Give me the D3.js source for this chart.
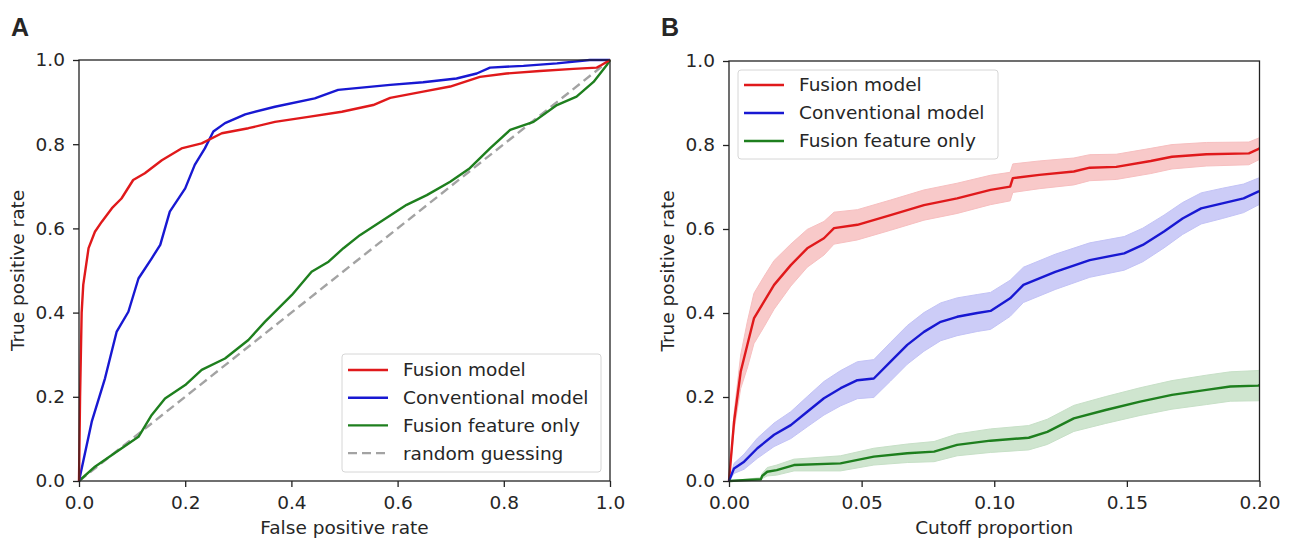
<!DOCTYPE html>
<html>
<head>
<meta charset="utf-8">
<script src="https://cdn.jsdelivr.net/npm/d3@7"></script>
<style>
  body { margin: 0; background: #fff; }
  svg { display: block; }
  text { font-family: "DejaVu Sans", sans-serif; fill: #262626; }
</style>
</head>
<body>
<svg id="chart" width="1293" height="539"></svg>
<script>
// ---- panel A: ROC curves ----
var rocFusionFpr = [0, 0.002, 0.005, 0.008, 0.018, 0.030, 0.043, 0.062, 0.080, 0.102, 0.124, 0.156, 0.193, 0.231, 0.269, 0.319, 0.369, 0.432, 0.495, 0.554, 0.586, 0.648, 0.699, 0.755, 0.805, 0.868, 0.931, 0.975, 0.984, 1]
var rocFusionTpr = [0, 0.20, 0.40, 0.466, 0.553, 0.592, 0.616, 0.648, 0.671, 0.715, 0.731, 0.762, 0.790, 0.802, 0.826, 0.838, 0.853, 0.865, 0.877, 0.893, 0.910, 0.925, 0.937, 0.960, 0.968, 0.974, 0.979, 0.982, 0.988, 1]

var rocConvFpr = [0, 0.024, 0.049, 0.071, 0.093, 0.112, 0.137, 0.153, 0.171, 0.200, 0.218, 0.237, 0.253, 0.275, 0.313, 0.369, 0.444, 0.488, 0.586, 0.648, 0.711, 0.749, 0.774, 0.837, 0.900, 0.962, 1]
var rocConvTpr = [0, 0.141, 0.244, 0.355, 0.402, 0.481, 0.529, 0.561, 0.640, 0.695, 0.751, 0.790, 0.830, 0.850, 0.871, 0.889, 0.909, 0.929, 0.941, 0.947, 0.956, 0.968, 0.982, 0.986, 0.992, 1.0, 1]

var rocFeatFpr = [0, 0.030, 0.062, 0.112, 0.137, 0.162, 0.200, 0.231, 0.275, 0.319, 0.350, 0.401, 0.438, 0.470, 0.498, 0.529, 0.573, 0.617, 0.655, 0.699, 0.736, 0.774, 0.812, 0.856, 0.900, 0.937, 0.969, 0.994, 1]
var rocFeatTpr = [0, 0.034, 0.062, 0.105, 0.157, 0.196, 0.228, 0.264, 0.291, 0.335, 0.378, 0.442, 0.497, 0.521, 0.553, 0.584, 0.620, 0.656, 0.679, 0.711, 0.743, 0.790, 0.834, 0.853, 0.893, 0.913, 0.948, 0.988, 1]

var randomFpr = [0, 1]
var randomTpr = [0, 1]

// ---- panel B: TPR vs cutoff, mean with band half width ----
var cutFusion = [0, 0.0019, 0.0044, 0.0069, 0.0094, 0.0132, 0.0170, 0.0233, 0.0295, 0.0358, 0.0396, 0.0484, 0.0609, 0.0735, 0.0860, 0.0986, 0.106, 0.107, 0.117, 0.130, 0.136, 0.146, 0.159, 0.167, 0.180, 0.196, 0.1995, 0.2]
var tprFusion = [0, 0.141, 0.260, 0.324, 0.387, 0.427, 0.467, 0.514, 0.554, 0.578, 0.602, 0.610, 0.633, 0.657, 0.673, 0.693, 0.701, 0.721, 0.729, 0.737, 0.746, 0.748, 0.762, 0.772, 0.778, 0.780, 0.790, 0.792]
var bandFusion = [0, 0.02, 0.04, 0.055, 0.06, 0.06, 0.058, 0.05, 0.045, 0.04, 0.038, 0.036, 0.036, 0.036, 0.036, 0.035, 0.034, 0.034, 0.033, 0.032, 0.031, 0.03, 0.03, 0.029, 0.028, 0.027, 0.026, 0.026]

var cutConv = [0, 0.0019, 0.0057, 0.0107, 0.0170, 0.0233, 0.0295, 0.0358, 0.0421, 0.0484, 0.0546, 0.0609, 0.0672, 0.0735, 0.0798, 0.0860, 0.0936, 0.0986, 0.106, 0.111, 0.123, 0.136, 0.149, 0.156, 0.164, 0.171, 0.178, 0.186, 0.194, 0.1995, 0.2]
var tprConv = [0, 0.030, 0.046, 0.078, 0.110, 0.133, 0.165, 0.197, 0.221, 0.240, 0.244, 0.284, 0.324, 0.355, 0.379, 0.391, 0.400, 0.405, 0.435, 0.467, 0.498, 0.526, 0.542, 0.562, 0.594, 0.625, 0.649, 0.661, 0.673, 0.689, 0.69]
var bandConv = [0, 0.012, 0.018, 0.024, 0.028, 0.032, 0.036, 0.04, 0.042, 0.044, 0.045, 0.046, 0.046, 0.046, 0.045, 0.045, 0.044, 0.044, 0.043, 0.042, 0.042, 0.041, 0.04, 0.04, 0.039, 0.038, 0.037, 0.036, 0.034, 0.032, 0.032]

var cutFeat = [0, 0.012, 0.0125, 0.0144, 0.018, 0.0245, 0.042, 0.0546, 0.0672, 0.0773, 0.086, 0.0986, 0.113, 0.120, 0.130, 0.142, 0.155, 0.167, 0.180, 0.189, 0.1995, 0.2]
var tprFeat = [0, 0.004, 0.012, 0.022, 0.026, 0.038, 0.042, 0.058, 0.066, 0.070, 0.086, 0.096, 0.103, 0.117, 0.149, 0.169, 0.189, 0.205, 0.217, 0.225, 0.227, 0.228]
var bandFeat = [0, 0.004, 0.006, 0.01, 0.012, 0.014, 0.018, 0.02, 0.022, 0.024, 0.026, 0.028, 0.029, 0.03, 0.031, 0.032, 0.033, 0.034, 0.035, 0.035, 0.036, 0.036]

var yTicks = [0, 0.2, 0.4, 0.6, 0.8, 1.0]
var xTicksA = [0, 0.2, 0.4, 0.6, 0.8, 1.0]
var xTicksB = [0, 0.05, 0.10, 0.15, 0.20]

var legendA = ["Fusion model", "Conventional model", "Fusion feature only", "random guessing"]
var legendB = ["Fusion model", "Conventional model", "Fusion feature only"]

var red = "#e0191b", blue = "#1818d2", green = "#1e7f1e", gray = "#a3a3a3"
var fontSize = 18.5

var svg = d3.select("#chart")

function drawAxes(g, x, y, xTicks, xFmt, xLabel, yLabelX) {
    var x0 = x.range()[0], x1 = x.range()[1]
    var y0 = y.range()[0], y1 = y.range()[1]

    var xa = g.append("g")
        .attr("transform", "translate(0," + y0 + ")")
        .call(d3.axisBottom(x).tickValues(xTicks).tickFormat(d3.format(xFmt)).tickSize(6).tickPadding(9))
    var ya = g.append("g")
        .attr("transform", "translate(" + x0 + ",0)")
        .call(d3.axisLeft(y).tickValues(yTicks).tickFormat(d3.format(".1f")).tickSize(6).tickPadding(8))
    ;[xa, ya].forEach(a => {
        a.select(".domain").remove()
        a.selectAll("line").attr("stroke", "#222").attr("stroke-width", 1.3)
        a.selectAll("text").style("font-size", fontSize + "px").attr("fill", "#262626")
    })

    // frame
    g.append("rect")
        .attr("x", x0).attr("y", y1)
        .attr("width", x1 - x0).attr("height", y0 - y1)
        .attr("fill", "none").attr("stroke", "#222").attr("stroke-width", 1.3)

    g.append("text")
        .attr("x", (x0 + x1) / 2).attr("y", 534)
        .attr("text-anchor", "middle")
        .style("font-size", fontSize + "px")
        .text(xLabel)

    g.append("text")
        .attr("transform", "translate(" + yLabelX + "," + (y0 + y1) / 2 + ") rotate(-90)")
        .attr("text-anchor", "middle")
        .style("font-size", fontSize + "px")
        .text("True positive rate")
}

function drawLegend(g, box, names, colors, dashed) {
    g.append("rect")
        .attr("x", box.x).attr("y", box.y)
        .attr("width", box.w).attr("height", box.h)
        .attr("rx", 3)
        .attr("fill", "white").attr("fill-opacity", 0.85)
        .attr("stroke", "#d6d6d6").attr("stroke-width", 1)
    names.forEach((name, i) => {
        var cy = box.y + box.first + i * box.step
        g.append("line")
            .attr("x1", box.x + 6).attr("x2", box.x + 46)
            .attr("y1", cy).attr("y2", cy)
            .attr("stroke", colors[i]).attr("stroke-width", 2.4)
            .attr("stroke-dasharray", dashed[i] ? "9,5" : null)
        g.append("text")
            .attr("x", box.x + 61).attr("y", cy)
            .attr("dy", "0.35em")
            .style("font-size", fontSize + "px")
            .text(name)
    })
}

// panel A
var gA = svg.append("g")
var xA = d3.scaleLinear().domain([0, 1]).range([79, 610])
var yA = d3.scaleLinear().domain([0, 1]).range([481, 60])
var lineA = d3.line().x(d => xA(d[0])).y(d => yA(d[1]))

gA.append("path").datum(d3.zip(randomFpr, randomTpr))
    .attr("d", lineA).attr("fill", "none")
    .attr("stroke", gray).attr("stroke-width", 2.4).attr("stroke-dasharray", "9,5")
var rocSeries = [
    [rocFeatFpr, rocFeatTpr, green],
    [rocConvFpr, rocConvTpr, blue],
    [rocFusionFpr, rocFusionTpr, red]
]
rocSeries.forEach(s => {
    gA.append("path").datum(d3.zip(s[0], s[1]))
        .attr("d", lineA).attr("fill", "none")
        .attr("stroke", s[2]).attr("stroke-width", 2.4)
        .attr("stroke-linejoin", "round")
})
drawAxes(gA, xA, yA, xTicksA, ".1f", "False positive rate", 24)
drawLegend(gA, {x: 342, y: 354, w: 259, h: 118, first: 16, step: 27.7},
    legendA, [red, blue, green, gray], [false, false, false, true])

gA.append("text")
    .attr("x", 11).attr("y", 36)
    .style("font-family", "'Liberation Sans', Arial, sans-serif")
    .style("font-weight", "bold").style("font-size", "25px")
    .attr("fill", "#111")
    .text("A")

// panel B
var gB = svg.append("g")
var xB = d3.scaleLinear().domain([0, 0.2]).range([729, 1259.5])
var yB = d3.scaleLinear().domain([0, 1]).range([481, 61])

var bandSeries = [
    [cutFusion, tprFusion, bandFusion, red, "#f7bfc0"],
    [cutConv, tprConv, bandConv, blue, "#c3c3f6"],
    [cutFeat, tprFeat, bandFeat, green, "#c7e0c7"]
]
var areaB = d3.area()
    .x(d => xB(d[0]))
    .y0(d => yB(Math.max(0, d[1] - d[2])))
    .y1(d => yB(d[1] + d[2]))
var lineB = d3.line().x(d => xB(d[0])).y(d => yB(d[1]))

bandSeries.forEach(s => {
    var pts = d3.zip(s[0], s[1], s[2])
    gB.append("path").datum(pts)
        .attr("d", areaB)
        .attr("fill", s[4]).attr("fill-opacity", 0.85)
        .attr("stroke", s[4]).attr("stroke-width", 1)
})
bandSeries.forEach(s => {
    gB.append("path").datum(d3.zip(s[0], s[1]))
        .attr("d", lineB).attr("fill", "none")
        .attr("stroke", s[3]).attr("stroke-width", 2.4)
        .attr("stroke-linejoin", "round")
})
drawAxes(gB, xB, yB, xTicksB, ".2f", "Cutoff proportion", 674)
drawLegend(gB, {x: 738, y: 70, w: 260, h: 89, first: 15, step: 28},
    legendB, [red, blue, green], [false, false, false])

gB.append("text")
    .attr("x", 661).attr("y", 36)
    .style("font-family", "'Liberation Sans', Arial, sans-serif")
    .style("font-weight", "bold").style("font-size", "25px")
    .attr("fill", "#111")
    .text("B")
</script>
</body>
</html>
